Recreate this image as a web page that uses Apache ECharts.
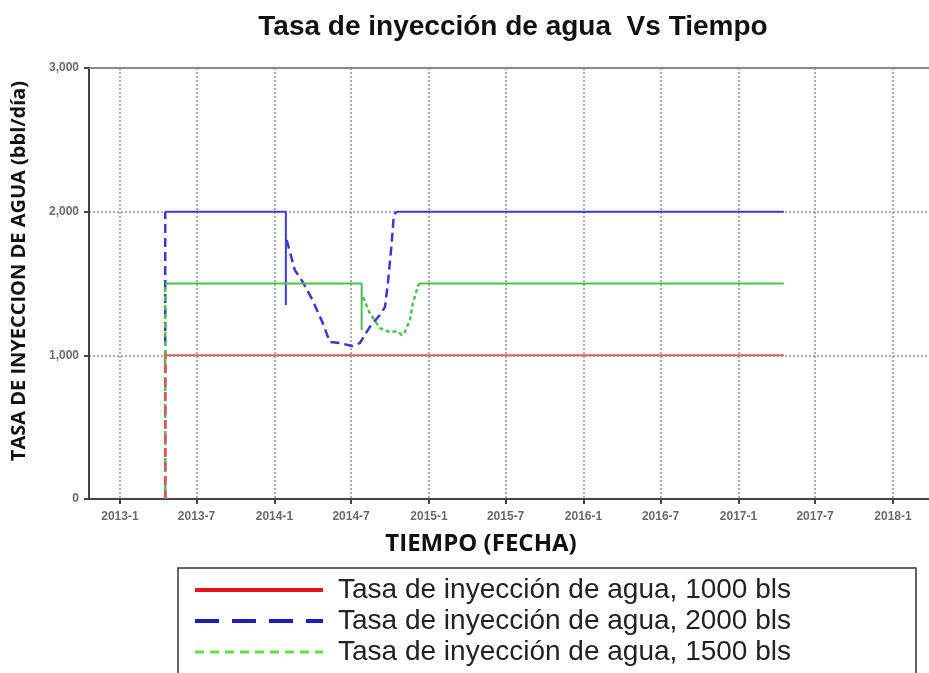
<!DOCTYPE html>
<html>
<head>
<meta charset="utf-8">
<script src="https://cdn.jsdelivr.net/npm/echarts@6/dist/echarts.min.js"></script>
<style>
  html, body { margin: 0; padding: 0; background: #fff; }
  #chart { width: 929px; height: 673px; }
</style>
</head>
<body>
<div id="chart"></div>
<script>
// etiquetas del eje de tiempo
const etiquetasX = ['2013-1', '2013-7', '2014-1', '2014-7', '2015-1', '2015-7',
  '2016-1', '2016-7', '2017-1', '2017-7', '2018-1'];
const ticksY = [0, 1000, 2000, 3000];

const inicio = '2013-04-18';
const fin = '2017-04-18';

// 1000 bls
const rojoArranque = [[inicio, 0], [inicio, 1000]];
const rojoPlano = [[inicio, 1000], [fin, 1000]];

// 2000 bls
const azulArranque = [[inicio, 0], [inicio, 2000]];
const azulTransitorio = [
  ['2014-01-30', 1803], ['2014-02-18', 1594], ['2014-03-09', 1510],
  ['2014-04-01', 1385], ['2014-04-25', 1225], ['2014-05-12', 1093],
  ['2014-06-04', 1086], ['2014-07-03', 1065], ['2014-07-22', 1086],
  ['2014-08-14', 1197], ['2014-09-07', 1281], ['2014-09-19', 1336],
  ['2014-09-26', 1503], ['2014-10-05', 1782], ['2014-10-10', 1977],
  ['2014-10-17', 2000]
];
const azulPlano = [
  [inicio, 2000], ['2014-01-28', 2000], ['2014-01-28', 1350],
  ['2014-06-01', null],
  ['2014-10-17', 2000], [fin, 2000]
];

// 1500 bls
const verdeArranque = [[inicio, 0], [inicio, 1500]];
const verdeTransitorio = [
  ['2014-07-29', 1406], ['2014-08-14', 1295], ['2014-09-07', 1190],
  ['2014-09-30', 1162], ['2014-10-19', 1169], ['2014-10-29', 1141],
  ['2014-11-05', 1162], ['2014-11-17', 1246], ['2014-11-24', 1364],
  ['2014-12-06', 1483], ['2014-12-10', 1500]
];
const verdePlano = [
  [inicio, 1500], ['2014-07-26', 1500], ['2014-07-26', 1176],
  ['2014-10-01', null],
  ['2014-12-10', 1500], [fin, 1500]
];

const nombres = [
  'Tasa de inyección de agua, 1000 bls',
  'Tasa de inyección de agua, 2000 bls',
  'Tasa de inyección de agua, 1500 bls'
];

// fecha 'yyyy-m-d' -> milisegundos
function ts(s) {
  const p = s.split('-');
  return new Date(+p[0], +p[1] - 1, p[2] ? +p[2] : 1).getTime();
}
const serie = arr => arr.map(d => [ts(d[0]), d[1] == null ? '-' : d[1]]);

const ticksX = etiquetasX.map(ts);
const xMin = ts('2012-10-20');
const xMax = ts('2018-03-27');

const rejilla = { show: true, lineStyle: { color: '#9a9a9a', type: [2, 2], width: 1.6 } };
const sinSimbolo = { color: 'transparent', borderWidth: 0 };

const chart = echarts.init(document.getElementById('chart'));

const option = {
  backgroundColor: '#fff',
  animation: false,
  title: [
    {
      text: 'Tasa de inyección de agua  Vs Tiempo',
      left: 508, top: 8, textAlign: 'center',
      textStyle: { fontFamily: 'Liberation Sans', fontSize: 28, fontWeight: 'bold', color: '#111' }
    },
    {
      text: 'TIEMPO (FECHA)',
      left: 476, top: 527, textAlign: 'center',
      textStyle: { fontFamily: 'Open Sans', fontSize: 24, fontWeight: 'bold', color: '#111' }
    }
  ],
  grid: { left: 89, top: 68, right: 0, bottom: 174 },
  legend: {
    orient: 'vertical',
    left: 178, top: 568, height: 200,
    padding: [8, 125, 40, 15],
    itemWidth: 128, itemHeight: 24, itemGap: 3,
    backgroundColor: '#fff',
    borderColor: '#333', borderWidth: 1.5, borderRadius: 0,
    textStyle: { fontFamily: 'Liberation Sans', fontSize: 28, color: '#222', padding: [0, 0, 0, 10] },
    data: [
      { name: nombres[0], itemStyle: sinSimbolo, lineStyle: { color: '#e8141c', width: 4, type: 'solid' } },
      { name: nombres[1], itemStyle: sinSimbolo, lineStyle: { color: '#1c1cb8', width: 4, type: [24, 13] } },
      { name: nombres[2], itemStyle: sinSimbolo, lineStyle: { color: '#66dd44', width: 3, type: [9, 6] } }
    ]
  },
  xAxis: [
    {
      type: 'value', min: xMin, max: xMax,
      axisLine: { lineStyle: { color: '#444', width: 2 } },
      axisTick: { show: true, customValues: ticksX, length: 5, lineStyle: { color: '#444', width: 2 } },
      axisLabel: {
        customValues: ticksX, margin: 12,
        color: '#6a6a6a', fontSize: 12, fontWeight: 'bold', fontFamily: 'Liberation Sans',
        formatter: v => {
          const d = new Date(v);
          return d.getFullYear() + '-' + (d.getMonth() + 1);
        }
      },
      splitLine: rejilla
    },
    {
      type: 'value', min: xMin, max: xMax, position: 'top',
      axisLine: { show: true, lineStyle: { color: '#888', width: 2 } },
      axisTick: { show: false }, axisLabel: { show: false }, splitLine: { show: false }
    }
  ],
  yAxis: {
    type: 'value', min: ticksY[0], max: ticksY[ticksY.length - 1], interval: 1000,
    name: 'TASA DE INYECCION DE AGUA (bbl/día)',
    nameLocation: 'middle', nameGap: 60,
    nameTextStyle: { fontFamily: 'Open Sans', fontSize: 20, fontWeight: 'bold', color: '#111', padding: [0, 0, 0, 25] },
    axisLine: { show: true, lineStyle: { color: '#444', width: 2 } },
    axisTick: { show: true, length: 5, lineStyle: { color: '#444', width: 2 } },
    axisLabel: {
      margin: 10, color: '#6a6a6a', fontSize: 12, fontWeight: 'bold', fontFamily: 'Liberation Sans',
      formatter: v => v.toLocaleString('en-US')
    },
    splitLine: rejilla
  },
  series: [
    { name: nombres[1], type: 'line', data: serie(azulArranque), symbol: 'none',
      lineStyle: { color: '#3a3ad0', width: 2.5, type: [9, 5] }, itemStyle: { color: '#3a3ad0' } },
    { name: nombres[1], type: 'line', data: serie(azulTransitorio), symbol: 'none',
      lineStyle: { color: '#3a3ad0', width: 2.5, type: [9, 5] } },
    { name: 'azul', type: 'line', data: serie(azulPlano), symbol: 'none', connectNulls: false,
      lineStyle: { color: '#3c3cd2', width: 2 } },
    { name: nombres[2], type: 'line', data: serie(verdeArranque), symbol: 'none',
      lineStyle: { color: '#4fbf4f', width: 2.5, type: [5, 4] }, itemStyle: { color: '#4fbf4f' } },
    { name: nombres[2], type: 'line', data: serie(verdeTransitorio), symbol: 'none',
      lineStyle: { color: '#4fbf4f', width: 2.5, type: [4, 3] } },
    { name: 'verde', type: 'line', data: serie(verdePlano), symbol: 'none', connectNulls: false,
      lineStyle: { color: '#4fbf4f', width: 2 } },
    { name: nombres[0], type: 'line', data: serie(rojoArranque), symbol: 'none',
      lineStyle: { color: '#e05858', width: 2.5, type: [9, 5] }, itemStyle: { color: '#e05858' } },
    { name: 'rojo', type: 'line', data: serie(rojoPlano), symbol: 'none',
      lineStyle: { color: '#e06060', width: 2 } }
  ]
};

chart.setOption(option);
</script>
</body>
</html>
